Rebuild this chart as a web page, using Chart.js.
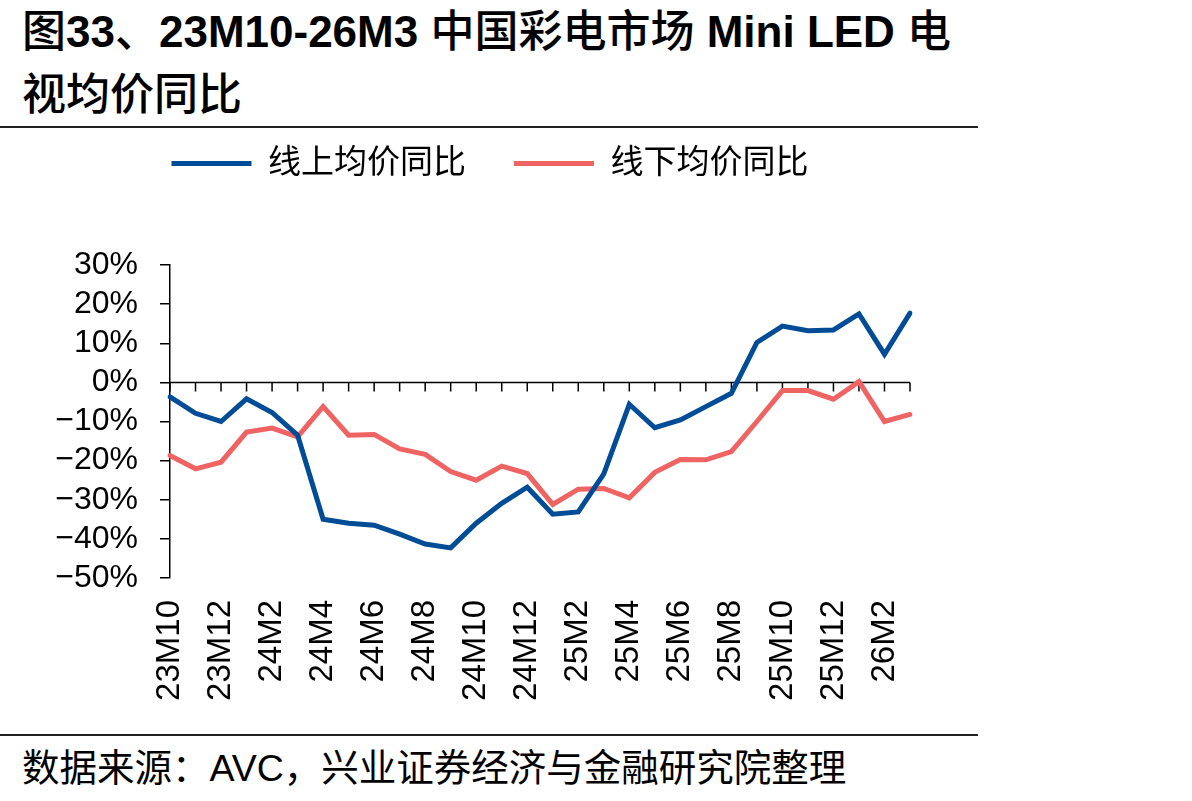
<!DOCTYPE html>
<html>
<head>
<meta charset="utf-8">
<script src="https://cdn.jsdelivr.net/npm/chart.js@4/dist/chart.umd.min.js"></script>
<style>
    body { margin: 0; background: #fff; width: 1192px; height: 801px; position: relative; overflow: hidden; }
    .title { position: absolute; left: 22px; top: 0; font-family: "Liberation Sans", "Noto Sans CJK SC"; font-size: 44px; font-weight: 500; line-height: 63px; color: #000; }
    .title b { font-weight: bold; }
    .rule { position: absolute; left: 0; width: 978px; height: 2px; background: #222; }
    .source { position: absolute; left: 22px; top: 745px; font-family: "Liberation Sans", "Noto Sans CJK SC"; font-size: 37.5px; line-height: 46px; color: #000; }
    #myChart { position: absolute; left: 0; top: 130px; }
</style>
</head>
<body>
<div class="title">图<b>33</b>、<b>23M10-26M3</b> 中国彩电市场 <b>Mini LED</b> 电<br>视均价同比</div>
<div class="rule" style="top:126px"></div>
<canvas id="myChart" width="978" height="600"></canvas>
<div class="rule" style="top:734px"></div>
<div class="source">数据来源：AVC，兴业证券经济与金融研究院整理</div>
<script>
var months = ['23M10', '23M11', '23M12',
    '24M1', '24M2', '24M3', '24M4', '24M5', '24M6', '24M7', '24M8', '24M9', '24M10', '24M11', '24M12',
    '25M1', '25M2', '25M3', '25M4', '25M5', '25M6', '25M7', '25M8', '25M9', '25M10', '25M11', '25M12',
    '26M1', '26M2', '26M3']
var online = [-3.7, -7.9, -10.0, -4.2, -7.7, -13.5, -35.0, -36.0, -36.5, -38.8, -41.3, -42.3, -36.0, -30.9, -26.8,
    -33.7, -33.1, -23.4, -5.6, -11.6, -9.6, -6.2, -2.8, 10.2, 14.4, 13.2, 13.4, 17.5, 7.2, 17.7]
var offline = [-18.7, -22.1, -20.4, -12.7, -11.7, -13.9, -6.2, -13.5, -13.3, -17.0, -18.4, -22.8, -25.0, -21.4, -23.3,
    -31.2, -27.3, -27.1, -29.5, -23.0, -19.7, -19.8, -17.7, -10.0, -2.1, -2.1, -4.3, 0.2, -10.0, -8.2]
var yMin = -50
var yMax = 30
var yStep = 10

var fontFamily = '"Liberation Sans", "Noto Sans CJK SC"'
var plotTop = 135   // where the 30% line sits inside the canvas
var legendShift = 35

// push the plot down so it starts at plotTop
const legendGap = {
    id: 'legendGap',
    beforeInit(chart) {
        const fit = chart.legend.fit
        chart.legend.fit = function () {
            fit.bind(chart.legend)()
            this.height = plotTop - chart.options.layout.padding.top
        }
    },
    afterLayout(chart) {
        // legend is centred on the whole panel, not the plot
        chart.legend.left += legendShift
        chart.legend.right += legendShift
    }
}

// zero line with month ticks, labels stay at the bottom
const zeroAxis = {
    id: 'zeroAxis',
    beforeDatasetsDraw(chart) {
        const ctx = chart.ctx
        const x = chart.scales.x
        const y0 = chart.scales.y.getPixelForValue(0)
        ctx.save()
        ctx.strokeStyle = '#000'
        ctx.lineWidth = 1.5
        ctx.beginPath()
        ctx.moveTo(x.left, y0)
        ctx.lineTo(x.right, y0)
        for (let i = 0; i < x.ticks.length; i++) {
            const px = x.getPixelForTick(i)
            ctx.moveTo(px, y0)
            ctx.lineTo(px, y0 + 9)
        }
        ctx.stroke()
        ctx.restore()
    }
}

const data = {
    labels: months,
    datasets: [{
        label: '线上均价同比',
        data: online,
        borderColor: '#014C97',
        backgroundColor: '#014C97',
        borderWidth: 5,
        borderCapStyle: 'round',
        pointRadius: 0,
        tension: 0
    }, {
        label: '线下均价同比',
        data: offline,
        borderColor: '#EF6363',
        backgroundColor: '#EF6363',
        borderWidth: 5,
        borderCapStyle: 'round',
        pointRadius: 0,
        tension: 0
    }]
}

const config = {
    type: 'line',
    data: data,
    options: {
        responsive: false,
        devicePixelRatio: 1,
        animation: false,
        layout: {
            padding: { top: -31, right: 68, left: 0, bottom: 0 }
        },
        plugins: {
            legend: {
                position: 'top',
                labels: {
                    usePointStyle: true,
                    pointStyle: 'line',
                    pointStyleWidth: 80,
                    padding: 48,
                    color: '#000',
                    font: { family: fontFamily, size: 33 }
                }
            },
            tooltip: { enabled: false }
        },
        scales: {
            x: {
                afterFit: (scale) => { scale.height = 152 },
                grid: { display: false, drawTicks: false },
                border: { display: false },
                ticks: {
                    autoSkip: false,
                    maxRotation: 90,
                    minRotation: 90,
                    padding: 22,
                    color: '#000',
                    font: { family: fontFamily, size: 33 },
                    callback: function (value, index) {
                        return index % 2 === 0 ? months[index] : ''
                    }
                }
            },
            y: {
                min: yMin,
                max: yMax,
                afterFit: (scale) => { scale.width = 170 },
                grid: {
                    display: true,
                    drawOnChartArea: false,
                    drawTicks: true,
                    tickLength: 10,
                    color: '#000',
                    lineWidth: 1.5
                },
                border: { display: true, color: '#000', width: 1.5 },
                ticks: {
                    stepSize: yStep,
                    autoSkip: false,
                    padding: 22,
                    color: '#000',
                    font: { family: fontFamily, size: 32 },
                    callback: (value) => (value < 0 ? '\u2212' : '') + Math.abs(value) + '%'
                }
            }
        }
    },
    plugins: [legendGap, zeroAxis]
}

var myChart = new Chart(document.getElementById('myChart'), config)
</script>
</body>
</html>
